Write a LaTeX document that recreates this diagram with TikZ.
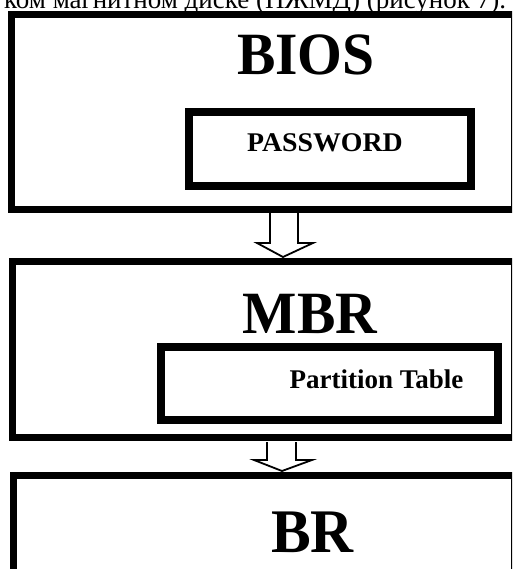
\documentclass[tikz,border=0pt]{standalone}
\usepackage{fontspec}
\setmainfont{Liberation Serif}
\usetikzlibrary{calc}
\tikzset{
  frame/.style={draw=black, line width=7pt, fill=none, inner sep=0pt},
  inframe/.style={draw=black, line width=8pt, fill=white, inner sep=0pt},
  bigtxt/.style={font=\bfseries\fontsize{60}{60}\selectfont, inner sep=0pt, anchor=base, xscale=0.96},
  smalltxt/.style={font=\bfseries\fontsize{27}{27}\selectfont, inner sep=0pt, anchor=base},
  toptxt/.style={font=\fontsize{27}{27}\selectfont, inner sep=0pt, anchor=base west},
  blockarrow/.style={draw=black, line width=1.8pt, fill=white, line join=miter}
}
\begin{document}
\begin{tikzpicture}[x=1pt,y=-1pt]
\useasboundingbox (0,0) rectangle (512,569);
\clip (0,0) rectangle (512,569);
\fill[white] (0,0) rectangle (512,569);
% header text (cut off at top, as in the reference)
\node[toptxt] (head) at (4,9) {ком магнитном диске (НЖМД) (рисунок 7).};
% boxes
\node[frame, minimum width=503pt, minimum height=194pt] (bios) at (262.5,112) {};
\node[inframe, minimum width=282pt, minimum height=74pt] (pw) at (330,149) {};
\node[frame, minimum width=501.5pt, minimum height=176.5pt] (mbr) at (263.25,349.25) {};
\node[inframe, minimum width=337pt, minimum height=73pt] (pt) at (329.5,383.5) {};
\node[frame, minimum width=501pt, minimum height=97pt] (br) at (263.5,523.5) {};
% labels
\node[bigtxt] (biost) at (306,75) {BIOS};
\node[smalltxt, xscale=1.03] (pwt) at (325,152) {PASSWORD};
\node[bigtxt] (mbrt) at (310,333) {MBR};
\node[smalltxt] (ptt) at (376.5,388) {Partition Table};
\node[bigtxt, font=\bfseries\fontsize{62}{62}\selectfont] (brt) at (312.5,552) {BR};
% block arrows
\coordinate (a1s) at (284,213);
\coordinate (a1e) at (283,257);
\draw[blockarrow] ($(a1s)+(-14,0)$) -- ($(a1s)+(-14,30)$) -- ($(a1s)+(-27,30)$) -- (a1e)
  -- ($(a1s)+(29,30)$) -- ($(a1s)+(14,30)$) -- ($(a1s)+(14,0)$);
\coordinate (a2s) at (281.5,442);
\coordinate (a2e) at (282,471);
\draw[blockarrow] ($(a2s)+(-14.5,0)$) -- ($(a2s)+(-14.5,18)$) -- ($(a2s)+(-27.5,18)$) -- (a2e)
  -- ($(a2s)+(30.5,18)$) -- ($(a2s)+(14.5,18)$) -- ($(a2s)+(14.5,0)$);
\end{tikzpicture}
\end{document}
